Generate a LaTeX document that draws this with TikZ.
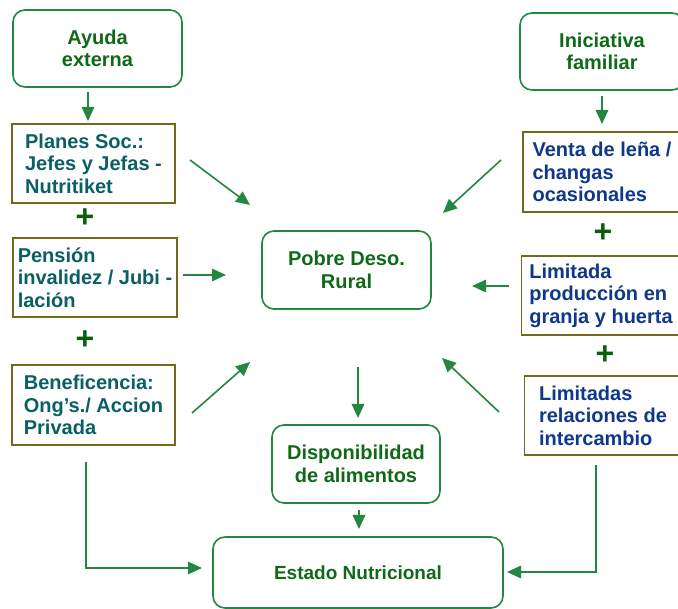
\documentclass[tikz,border=0pt]{standalone}
\usepackage{fontspec}
\setmainfont{Liberation Sans}
\usetikzlibrary{arrows.meta}
\definecolor{lineg}{RGB}{35,135,65}
\definecolor{headg}{RGB}{15,105,25}
\definecolor{olivebd}{RGB}{115,105,30}
\definecolor{leftc}{RGB}{10,95,100}
\definecolor{rightc}{RGB}{15,55,140}
\definecolor{plusg}{RGB}{10,95,15}

\begin{document}
\begin{tikzpicture}[x=1pt,y=-1pt]
		\useasboundingbox[fill=white] (0,0) rectangle (678,609);
		% rounded boxes
		\begin{scope}[every node/.style={draw=lineg,line width=1.6pt,rounded corners=12pt,
			text=headg,align=center,font=\bfseries\fontsize{20}{22.5}\selectfont}]
			\node[minimum width=169,minimum height=77] (AE) at (97.5,48.5) {Ayuda\\externa};
			\node[minimum width=164,minimum height=77] (IF) at (602,51.5) {Iniciativa\\familiar};
			\node[minimum width=169,minimum height=78] (PD) at (346.5,270) {Pobre Deso.\\Rural};
			\node[minimum width=168,minimum height=78] (DA) at (356,464) {Disponibilidad\\de alimentos};
			\node[minimum width=290,minimum height=71,font=\bfseries\fontsize{19}{22}\selectfont] (EN) at (358,572.5) {Estado Nutricional};
		\end{scope}
		% square boxes
		\begin{scope}[every node/.style={draw=olivebd,line width=1.6pt,align=left,
			font=\bfseries\fontsize{20}{22.5}\selectfont}]
			\node[text=leftc,minimum width=163,minimum height=79] (PS) at (93.5,163.5) {Planes Soc.:\\Jefes y Jefas -\\Nutritiket};
			\node[text=leftc,minimum width=164,minimum height=79] (PI) at (95,277.5) {Pensión\\invalidez / Jubi -\\lación};
			\node[text=leftc,minimum width=163,minimum height=80] (BE) at (93.5,405) {Beneficencia:\\Ong's./ Accion\\Privada};
			\node[text=rightc,minimum width=158,minimum height=80] (VL) at (602,172) {Venta de leña /\\changas\\ocasionales};
			\node[text=rightc,minimum width=159,minimum height=79] (LP) at (601,295.5) {Limitada\\producción en\\granja y huerta};
			\node[text=rightc,minimum width=157,minimum height=79] (LR) at (603,415.5) {Limitadas\\relaciones de\\intercambio};
		\end{scope}
		% plus signs
		\begin{scope}[every node/.style={text=plusg,inner sep=0pt,font=\bfseries\fontsize{32}{32}\selectfont}]
			\node (X1) at (85,218) {+};
			\node (X2) at (85,340) {+};
			\node (X3) at (603,233) {+};
			\node (X4) at (605,355) {+};
		\end{scope}
		% arrow ends
		\coordinate (S1) at (88,92);   \coordinate (E1) at (88,121);
		\coordinate (S2) at (190,160); \coordinate (E2) at (250,205);
		\coordinate (S3) at (183,275); \coordinate (E3) at (226,275);
		\coordinate (S4) at (192,413); \coordinate (E4) at (250,362);
		\coordinate (S5) at (602,96);  \coordinate (E5) at (602,124);
		\coordinate (S6) at (501,160); \coordinate (E6) at (443,213);
		\coordinate (S7) at (509,286); \coordinate (E7) at (472,286);
		\coordinate (S8) at (499,412); \coordinate (E8) at (442,358);
		\coordinate (S9) at (358,367); \coordinate (E9) at (358,418);
		\coordinate (S10) at (359,510); \coordinate (E10) at (359,529);
		\coordinate (S11) at (86,462);  \coordinate (E11) at (202,568);
		\coordinate (S12) at (596,465); \coordinate (E12) at (507,572);
		\begin{scope}[>={Triangle[length=14pt,width=12.5pt]},
			every edge/.style={draw=lineg,line width=1.6pt}]
			\path [->] (S1) edge (E1);
			\path [->] (S2) edge (E2);
			\path [->] (S3) edge (E3);
			\path [->] (S4) edge (E4);
			\path [->] (S5) edge (E5);
			\path [->] (S6) edge (E6);
			\path [->] (S7) edge (E7);
			\path [->] (S8) edge (E8);
			\path [->] (S9) edge (E9);
			\path [->] (S10) edge (E10);
			\path [->] (S11) edge[to path={|- (\tikztotarget)}] (E11);
			\path [->] (S12) edge[to path={|- (\tikztotarget)}] (E12);
		\end{scope}
	\end{tikzpicture}
\end{document}
